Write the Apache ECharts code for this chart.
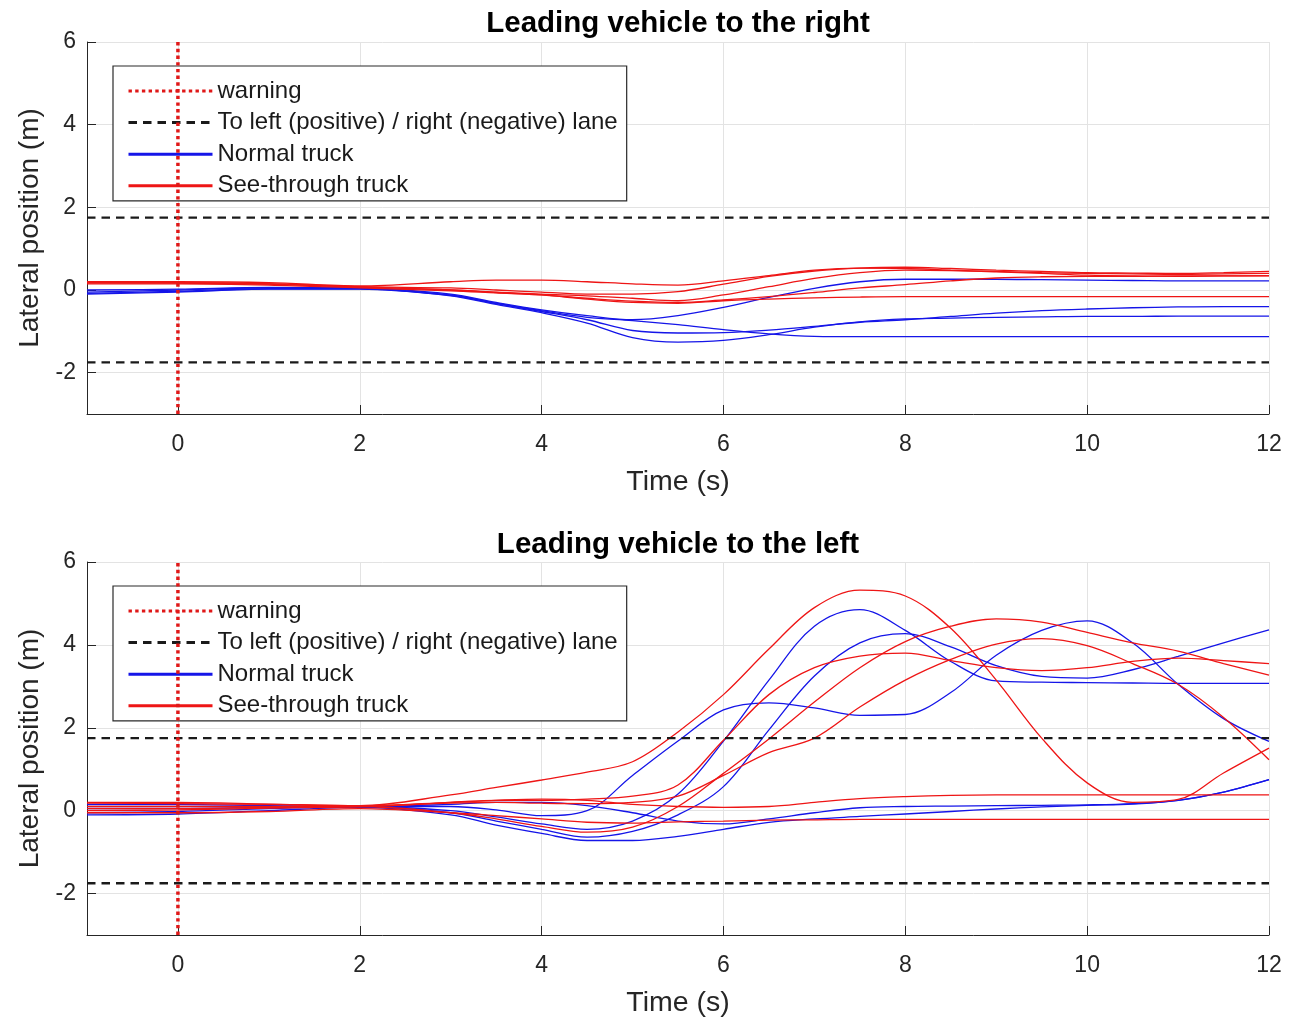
<!DOCTYPE html>
<html>
<head>
<meta charset="utf-8">
<script src="https://cdn.jsdelivr.net/npm/echarts@6/dist/echarts.min.js"></script>
<style>
html,body{margin:0;padding:0;background:#fff;}
#chart{width:1289px;height:1019px;}
</style>
</head>
<body>
<div id="chart"></div>
<script>
// ---------- data ----------
const TIME = [-1,0,1,2,3,3.5,4,4.5,5,5.5,6,6.5,7,7.5,8,8.5,9,9.5,10,10.5,11,11.5,12];
const WARNING_T = 0;
const LANE = 1.75;
const X_RANGE = [-1, 12];
const Y_RANGE = [-3, 6];

// Top: leading vehicle to the right
const rightNormal = [
  [0.0,0.02,0.06,0.05,-0.1,-0.3,-0.48,-0.62,-0.72,-0.62,-0.42,-0.18,0.04,0.2,0.26,0.26,0.26,0.25,0.24,0.23,0.22,0.22,0.22],
  [-0.05,0.0,0.05,0.04,-0.12,-0.32,-0.5,-0.66,-0.74,-0.84,-0.96,-1.06,-1.12,-1.13,-1.13,-1.13,-1.13,-1.13,-1.13,-1.13,-1.13,-1.13,-1.13],
  [-0.08,-0.03,0.03,0.03,-0.13,-0.33,-0.52,-0.72,-0.98,-1.04,-1.03,-0.97,-0.88,-0.78,-0.72,-0.64,-0.56,-0.5,-0.46,-0.43,-0.41,-0.4,-0.4],
  [-0.1,-0.05,0.02,0.02,-0.14,-0.35,-0.55,-0.8,-1.15,-1.26,-1.22,-1.08,-0.9,-0.77,-0.7,-0.68,-0.66,-0.65,-0.64,-0.64,-0.63,-0.63,-0.63]
];
const rightSeeThrough = [
  [0.2,0.2,0.18,0.1,0.2,0.24,0.24,0.2,0.15,0.12,0.22,0.35,0.48,0.53,0.52,0.48,0.45,0.42,0.4,0.39,0.38,0.39,0.4],
  [0.17,0.17,0.15,0.08,0.05,0.0,-0.05,-0.1,-0.1,-0.04,0.14,0.33,0.46,0.53,0.55,0.52,0.48,0.45,0.42,0.41,0.4,0.42,0.45],
  [0.2,0.18,0.15,0.08,0.0,-0.05,-0.1,-0.14,-0.2,-0.26,-0.12,0.08,0.28,0.42,0.48,0.47,0.44,0.4,0.36,0.34,0.33,0.34,0.35],
  [0.18,0.17,0.14,0.07,0.0,-0.06,-0.12,-0.2,-0.27,-0.3,-0.24,-0.16,-0.06,0.05,0.13,0.22,0.29,0.32,0.33,0.33,0.34,0.34,0.34],
  [0.15,0.15,0.12,0.05,-0.02,-0.07,-0.12,-0.22,-0.3,-0.32,-0.26,-0.22,-0.19,-0.17,-0.16,-0.16,-0.16,-0.16,-0.16,-0.16,-0.16,-0.16,-0.16]
];

// Bottom: leading vehicle to the left
const leftNormal = [
  [0.1,0.1,0.1,0.1,0.0,-0.15,-0.32,-0.45,-0.25,0.4,1.68,3.15,4.45,4.85,4.35,3.6,3.13,3.1,3.09,3.08,3.07,3.07,3.07],
  [0.05,0.05,0.08,0.1,0.1,0.02,-0.12,0.0,0.85,1.68,2.43,2.6,2.48,2.3,2.32,2.85,3.75,4.35,4.58,4.05,3.05,2.22,1.67],
  [-0.05,-0.02,0.05,0.1,-0.05,-0.25,-0.45,-0.64,-0.5,-0.1,0.58,1.95,3.25,4.05,4.27,3.95,3.5,3.24,3.2,3.4,3.72,4.05,4.36],
  [0.15,0.15,0.12,0.1,0.15,0.2,0.2,0.12,-0.05,-0.25,-0.32,-0.2,-0.05,0.07,0.1,0.11,0.12,0.13,0.14,0.17,0.25,0.45,0.75],
  [-0.1,-0.08,0.0,0.08,-0.1,-0.35,-0.55,-0.72,-0.72,-0.62,-0.45,-0.28,-0.2,-0.14,-0.08,-0.02,0.04,0.09,0.13,0.16,0.25,0.45,0.75]
];
const leftSeeThrough = [
  [0.18,0.17,0.15,0.12,0.38,0.56,0.74,0.93,1.18,1.9,2.8,3.9,4.9,5.32,5.18,4.4,3.15,1.75,0.67,0.2,0.27,0.91,1.51],
  [0.1,0.1,0.1,0.1,0.2,0.25,0.25,0.28,0.35,0.62,1.7,2.8,3.45,3.73,3.8,3.62,3.45,3.38,3.45,3.6,3.68,3.62,3.55],
  [0.05,0.05,0.08,0.1,-0.05,-0.2,-0.38,-0.52,-0.4,0.1,0.9,1.73,2.62,3.45,4.08,4.45,4.63,4.55,4.3,4.05,3.85,3.55,3.27],
  [0.0,0.02,0.06,0.1,0.18,0.2,0.18,0.17,0.2,0.35,0.85,1.4,1.75,2.5,3.15,3.65,4.02,4.15,3.98,3.55,3.05,2.25,1.23],
  [0.2,0.2,0.16,0.12,0.2,0.25,0.28,0.25,0.15,0.1,0.08,0.1,0.2,0.29,0.34,0.37,0.38,0.38,0.38,0.38,0.38,0.38,0.38],
  [-0.05,-0.05,-0.02,0.05,-0.05,-0.12,-0.2,-0.28,-0.3,-0.27,-0.25,-0.23,-0.22,-0.21,-0.21,-0.21,-0.21,-0.21,-0.21,-0.21,-0.21,-0.21,-0.21]
];

const TITLES = ['Leading vehicle to the right', 'Leading vehicle to the left'];
const X_NAME = 'Time (s)';
const Y_NAME = 'Lateral position (m)';
const NAME_WARN = 'warning';
const NAME_LANE = 'To left (positive) / right (negative) lane';
const NAME_NORMAL = 'Normal truck';
const NAME_SEE = 'See-through truck';

// ---------- styles ----------
const FONT = '"Liberation Sans", Arial, Helvetica, sans-serif';
const RED = '#ee1515';
const BLUE = '#1515e8';
const AXIS_C = '#262626';

const chart = echarts.init(document.getElementById('chart'), null, {renderer: 'canvas'});

const grids = [
  {left: 87, top: 42, width: 1182, height: 372},
  {left: 87, top: 562, width: 1182, height: 374}
];

function xAxis(i) {
  return {
    type: 'value', gridIndex: i, min: X_RANGE[0], max: X_RANGE[1], splitNumber: 7,
    name: X_NAME, nameLocation: 'middle', nameGap: 54,
    nameTextStyle: {fontFamily: FONT, fontSize: 28.5, color: AXIS_C},
    axisLine: {show: true, onZero: false, lineStyle: {color: AXIS_C, width: 1}},
    axisTick: {show: true, inside: true, length: 9, lineStyle: {color: AXIS_C}},
    axisLabel: {fontFamily: FONT, fontSize: 23, color: AXIS_C, margin: 19,
      formatter: v => (v === X_RANGE[0] ? '' : String(v))},
    splitLine: {show: true, lineStyle: {color: '#e3e3e3', width: 1}}
  };
}
function yAxis(i) {
  return {
    type: 'value', gridIndex: i, min: Y_RANGE[0], max: Y_RANGE[1], splitNumber: 5,
    name: Y_NAME, nameLocation: 'middle', nameGap: 43, nameRotate: 90,
    nameTextStyle: {fontFamily: FONT, fontSize: 28, color: AXIS_C},
    axisLine: {show: true, onZero: false, lineStyle: {color: AXIS_C, width: 1}},
    axisTick: {show: true, inside: true, length: 9, lineStyle: {color: AXIS_C}},
    axisLabel: {fontFamily: FONT, fontSize: 23, color: AXIS_C, margin: 11,
      formatter: v => (v === Y_RANGE[0] ? '' : String(v))},
    splitLine: {show: true, lineStyle: {color: '#e3e3e3', width: 1}}
  };
}

function curve(name, vals, color, gi, z) {
  return {
    type: 'line', name: name, xAxisIndex: gi, yAxisIndex: gi,
    data: TIME.map((t, k) => [t, vals[k]]),
    smooth: 0.35, symbol: 'none', z: z, silent: true,
    lineStyle: {color: color, width: 1.3}
  };
}

const series = [];
[[rightNormal, rightSeeThrough], [leftNormal, leftSeeThrough]].forEach((pair, gi) => {
  [LANE, -LANE].forEach(v => {
    series.push({
      type: 'line', name: NAME_LANE, xAxisIndex: gi, yAxisIndex: gi,
      data: [[X_RANGE[0], v], [X_RANGE[1], v]], symbol: 'none', z: 4, silent: true,
      lineStyle: {color: '#1a1a1a', width: 2.4, type: [8.5, 6]}
    });
  });
  series.push({
    type: 'line', name: NAME_WARN, xAxisIndex: gi, yAxisIndex: gi,
    data: [[WARNING_T, Y_RANGE[0]], [WARNING_T, Y_RANGE[1]]], symbol: 'none', z: 6, silent: true,
    lineStyle: {color: '#e01818', width: 3.5, type: [3.4, 3.3]}
  });
  pair[0].forEach(vals => series.push(curve(NAME_NORMAL, vals, BLUE, gi, 2)));
  pair[1].forEach(vals => series.push(curve(NAME_SEE, vals, RED, gi, 3)));
});

function legend(top) {
  return {
    orient: 'vertical', left: 113, top: top,
    padding: [13, 9, 3, 14], itemGap: 7.6, itemWidth: 84, itemHeight: 14,
    backgroundColor: '#fff', borderColor: '#2a2a2a', borderWidth: 1.2,
    selectedMode: false,
    data: [NAME_WARN, NAME_LANE, NAME_NORMAL, NAME_SEE],
    textStyle: {fontFamily: FONT, fontSize: 24, color: '#1a1a1a', lineHeight: 24},
    lineStyle: {width: 3},
    itemStyle: {opacity: 0}
  };
}

chart.setOption({
  animation: false,
  backgroundColor: '#fff',
  title: TITLES.map((t, i) => ({
    text: t, left: 678, top: i === 0 ? 9 : 530, textAlign: 'center', padding: 0,
    textStyle: {fontFamily: FONT, fontSize: 29.5, fontWeight: 'bold', color: '#000'}
  })),
  grid: grids,
  legend: [legend(66), legend(586)],
  xAxis: [xAxis(0), xAxis(1)],
  yAxis: [yAxis(0), yAxis(1)],
  series: series
});
</script>
</body>
</html>
